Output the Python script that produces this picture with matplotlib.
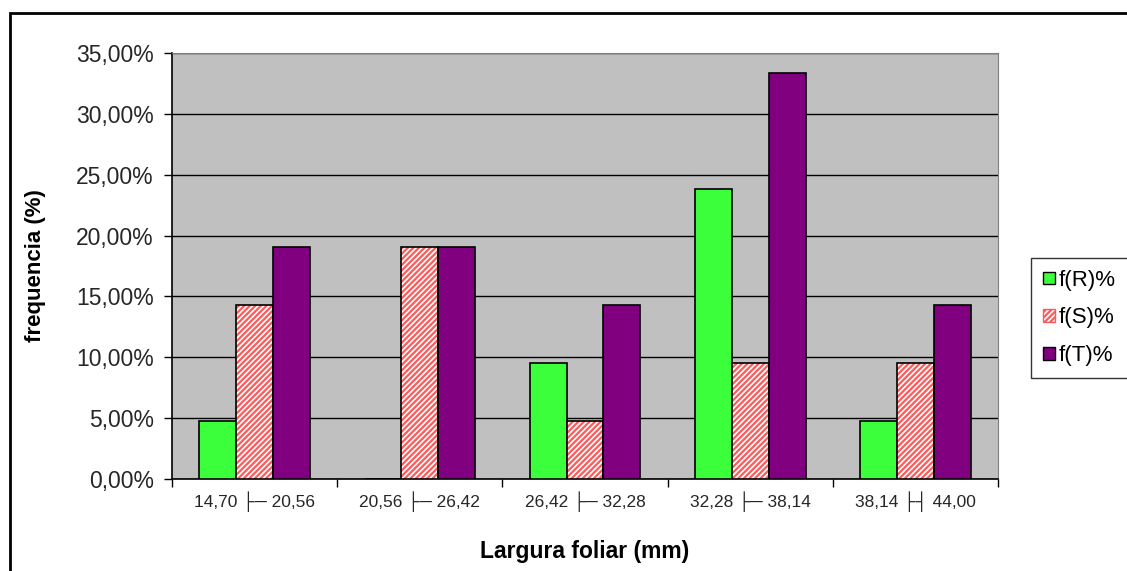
import matplotlib.pyplot as plt
from matplotlib.patches import Patch, Rectangle
from matplotlib.ticker import FuncFormatter, FixedLocator

# dados
classes = ['14,70 ├─ 20,56', '20,56 ├─ 26,42', '26,42 ├─ 32,28',
           '32,28 ├─ 38,14', '38,14 ├┤ 44,00']
f_R = [4.76, 0.00, 9.52, 23.81, 4.76]
f_S = [14.29, 19.05, 4.76, 9.52, 9.52]
f_T = [19.05, 19.05, 14.29, 33.33, 14.29]

plt.rcParams['font.family'] = ['Liberation Sans', 'DejaVu Sans']
plt.rcParams['hatch.linewidth'] = 1.6

GREEN = '#3CFF3C'
RED = '#FF5A5A'
PURPLE = '#800080'
w = 0.223

fig = plt.figure(figsize=(11.27, 5.71), dpi=100)
ax = fig.add_axes([0.1526, 0.1611, 0.7330, 0.7461])
ax.set_facecolor('#C0C0C0')

x = list(range(len(classes)))
xr = [i - w for i in x]
xt = [i + w for i in x]

ax.bar(xr, f_R, width=w, color=GREEN, edgecolor='black', linewidth=1.2, zorder=3)
# barras hachuradas: fundo branco com listras vermelhas, contorno preto por cima
ax.bar(x, f_S, width=w, color='white', edgecolor=RED, hatch='//////', linewidth=0, zorder=3)
ax.bar(x, f_S, width=w, fill=False, edgecolor='black', linewidth=1.2, zorder=4)
ax.bar(xt, f_T, width=w, color=PURPLE, edgecolor='black', linewidth=1.2, zorder=3)

ax.set_xlim(-0.5, 4.5)
ax.set_ylim(0, 35)
ax.set_yticks(range(0, 36, 5))
ax.yaxis.set_major_formatter(FuncFormatter(lambda v, p: f'{v:.2f}%'.replace('.', ',')))
ax.yaxis.grid(True, color='black', linewidth=1.0, zorder=1)
ax.set_axisbelow(True)

ax.xaxis.set_major_locator(FixedLocator([-0.5, 0.5, 1.5, 2.5, 3.5, 4.5]))
ax.xaxis.set_major_formatter(FuncFormatter(lambda v, p: ''))
ax.xaxis.set_minor_locator(FixedLocator(x))
ax.set_xticklabels(classes, minor=True)
ax.tick_params(axis='x', which='major', length=6, width=1, direction='out')
ax.tick_params(axis='x', which='minor', length=0, pad=9, labelsize=12.5, labelcolor='#262626')
ax.tick_params(axis='y', length=6, width=1, direction='out', labelsize=16.5, labelcolor='#262626', pad=7)

for s in ['top', 'right']:
    ax.spines[s].set_color('#808080')
for s in ['left', 'bottom']:
    ax.spines[s].set_color('black')
    ax.spines[s].set_linewidth(1.2)

ax.set_ylabel('frequencia (%)', fontsize=16, fontweight='bold', labelpad=22)
ax.set_xlabel('Largura foliar (mm)', fontsize=16.5, fontweight='bold', labelpad=20)

handles = [Patch(facecolor=GREEN, edgecolor='black', label='f(R)%'),
           Patch(facecolor='white', edgecolor=RED, hatch='//////', label='f(S)%'),
           Patch(facecolor=PURPLE, edgecolor='black', label='f(T)%')]
leg = fig.legend(handles=handles, loc='upper left', bbox_to_anchor=(0.915, 0.549),
                 fontsize=16, handlelength=0.5, handleheight=0.5, handletextpad=0.2,
                 labelspacing=0.75, borderpad=0.55, borderaxespad=0, frameon=True,
                 fancybox=False)
leg.get_frame().set_edgecolor('black')
leg.get_frame().set_linewidth(1.0)

# moldura externa do gráfico (cortada nas bordas direita e inferior)
fig.patches.append(Rectangle((0.0089, -0.1), 1.2, 1.077, transform=fig.transFigure,
                             fill=False, edgecolor='black', linewidth=2, clip_on=False))

fig.savefig('out.png', dpi=100)
